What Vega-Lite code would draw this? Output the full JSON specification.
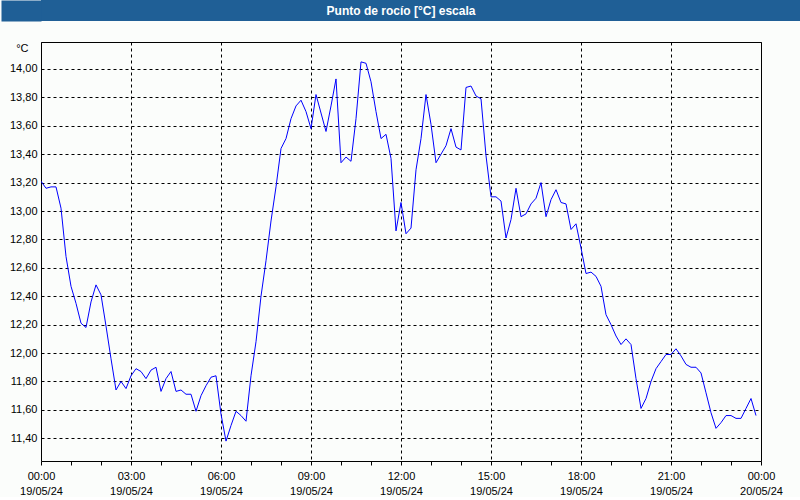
{
  "$schema": "https://vega.github.io/schema/vega-lite/v6.json",
  "padding": 0,
  "background": "#fbfdfb",
  "spacing": 20,
  "config": {
    "font": "Liberation Sans",
    "view": {"stroke": null}
  },
  "vconcat": [
    {
      "width": 760,
      "height": 21,
      "view": {"fill": "#1f5f96", "stroke": null},
      "data": {"values": [{"label": "Punto de rocío [°C] escala"}]},
      "mark": {"type": "text", "color": "#ffffff", "font": "Liberation Sans", "fontSize": 12, "fontWeight": "bold", "baseline": "middle", "align": "center", "dx": -20},
      "encoding": {
        "text": {"field": "label", "type": "nominal"},
        "y": {
          "datum": 0,
          "type": "quantitative",
          "scale": {"domain": [-1, 1]},
          "axis": {"orient": "left", "offset": 20, "domain": true, "domainWidth": 40, "domainColor": "#1f5f96", "domainCap": "butt", "labels": false, "ticks": false, "grid": false, "title": null, "minExtent": 0, "maxExtent": 0}
        }
      }
    },
    {
      "width": 720,
      "height": 419,
      "view": {"stroke": "#000000", "strokeWidth": 1},
      "data": {"values": [
      {"min": 0, "v": 13.21}, {"min": 10, "v": 13.16}, {"min": 20, "v": 13.17}, {"min": 30, "v": 13.17}, {"min": 40, "v": 13.02}, {"min": 50, "v": 12.68},
      {"min": 60, "v": 12.47}, {"min": 70, "v": 12.35}, {"min": 80, "v": 12.21}, {"min": 90, "v": 12.18}, {"min": 100, "v": 12.36}, {"min": 110, "v": 12.48},
      {"min": 120, "v": 12.41}, {"min": 130, "v": 12.19}, {"min": 140, "v": 11.96}, {"min": 150, "v": 11.74}, {"min": 160, "v": 11.80}, {"min": 170, "v": 11.75},
      {"min": 180, "v": 11.84}, {"min": 190, "v": 11.89}, {"min": 200, "v": 11.87}, {"min": 210, "v": 11.82}, {"min": 220, "v": 11.88}, {"min": 230, "v": 11.90},
      {"min": 240, "v": 11.73}, {"min": 250, "v": 11.82}, {"min": 260, "v": 11.87}, {"min": 270, "v": 11.73}, {"min": 280, "v": 11.74}, {"min": 290, "v": 11.71},
      {"min": 300, "v": 11.71}, {"min": 310, "v": 11.59}, {"min": 320, "v": 11.70}, {"min": 330, "v": 11.77}, {"min": 340, "v": 11.83}, {"min": 350, "v": 11.84},
      {"min": 360, "v": 11.57}, {"min": 370, "v": 11.38}, {"min": 380, "v": 11.49}, {"min": 390, "v": 11.59}, {"min": 400, "v": 11.56}, {"min": 410, "v": 11.52},
      {"min": 420, "v": 11.84}, {"min": 430, "v": 12.08}, {"min": 440, "v": 12.40}, {"min": 450, "v": 12.65}, {"min": 460, "v": 12.93}, {"min": 470, "v": 13.17},
      {"min": 480, "v": 13.44}, {"min": 490, "v": 13.51}, {"min": 500, "v": 13.65}, {"min": 510, "v": 13.74}, {"min": 520, "v": 13.78}, {"min": 530, "v": 13.70},
      {"min": 540, "v": 13.58}, {"min": 550, "v": 13.82}, {"min": 560, "v": 13.69}, {"min": 570, "v": 13.56}, {"min": 580, "v": 13.74}, {"min": 590, "v": 13.93},
      {"min": 600, "v": 13.34}, {"min": 610, "v": 13.38}, {"min": 620, "v": 13.35}, {"min": 630, "v": 13.65}, {"min": 640, "v": 14.05}, {"min": 650, "v": 14.04},
      {"min": 660, "v": 13.91}, {"min": 670, "v": 13.70}, {"min": 680, "v": 13.51}, {"min": 690, "v": 13.54}, {"min": 700, "v": 13.37}, {"min": 710, "v": 12.86},
      {"min": 720, "v": 13.06}, {"min": 730, "v": 12.84}, {"min": 740, "v": 12.88}, {"min": 750, "v": 13.29}, {"min": 760, "v": 13.51}, {"min": 770, "v": 13.82},
      {"min": 780, "v": 13.61}, {"min": 790, "v": 13.34}, {"min": 800, "v": 13.40}, {"min": 810, "v": 13.46}, {"min": 820, "v": 13.58}, {"min": 830, "v": 13.45},
      {"min": 840, "v": 13.43}, {"min": 850, "v": 13.87}, {"min": 860, "v": 13.88}, {"min": 870, "v": 13.81}, {"min": 880, "v": 13.79}, {"min": 890, "v": 13.39},
      {"min": 900, "v": 13.10}, {"min": 910, "v": 13.10}, {"min": 920, "v": 13.07}, {"min": 930, "v": 12.81}, {"min": 940, "v": 12.94}, {"min": 950, "v": 13.16},
      {"min": 960, "v": 12.96}, {"min": 970, "v": 12.98}, {"min": 980, "v": 13.05}, {"min": 990, "v": 13.09}, {"min": 1000, "v": 13.20}, {"min": 1010, "v": 12.96},
      {"min": 1020, "v": 13.08}, {"min": 1030, "v": 13.15}, {"min": 1040, "v": 13.06}, {"min": 1050, "v": 13.05}, {"min": 1060, "v": 12.87}, {"min": 1070, "v": 12.91},
      {"min": 1080, "v": 12.74}, {"min": 1090, "v": 12.56}, {"min": 1100, "v": 12.57}, {"min": 1110, "v": 12.54}, {"min": 1120, "v": 12.47}, {"min": 1130, "v": 12.27},
      {"min": 1140, "v": 12.20}, {"min": 1150, "v": 12.12}, {"min": 1160, "v": 12.06}, {"min": 1170, "v": 12.10}, {"min": 1180, "v": 12.06}, {"min": 1190, "v": 11.82},
      {"min": 1200, "v": 11.61}, {"min": 1210, "v": 11.68}, {"min": 1220, "v": 11.80}, {"min": 1230, "v": 11.89}, {"min": 1240, "v": 11.94}, {"min": 1250, "v": 11.99},
      {"min": 1260, "v": 11.99}, {"min": 1270, "v": 12.03}, {"min": 1280, "v": 11.98}, {"min": 1290, "v": 11.92}, {"min": 1300, "v": 11.90}, {"min": 1310, "v": 11.90},
      {"min": 1320, "v": 11.86}, {"min": 1330, "v": 11.72}, {"min": 1340, "v": 11.58}, {"min": 1350, "v": 11.47}, {"min": 1360, "v": 11.51}, {"min": 1370, "v": 11.56},
      {"min": 1380, "v": 11.56}, {"min": 1390, "v": 11.54}, {"min": 1400, "v": 11.54}, {"min": 1410, "v": 11.61}, {"min": 1420, "v": 11.68}, {"min": 1430, "v": 11.56}
      ]},
      "mark": {"type": "line", "color": "#0000ff", "strokeWidth": 1, "clip": true},
      "encoding": {
        "x": {
          "field": "min",
          "type": "quantitative",
          "scale": {"domain": [0, 1440], "nice": false, "zero": false},
          "axis": {
            "title": null,
            "values": [0, 60, 120, 180, 240, 300, 360, 420, 480, 540, 600, 660, 720, 780, 840, 900, 960, 1020, 1080, 1140, 1200, 1260, 1320, 1380, 1440],
            "domain": false,
            "tickSize": 4,
            "tickColor": "#000000",
            "grid": true,
            "gridColor": "#000000",
            "gridDash": [3, 3],
            "gridOpacity": {"condition": {"test": "datum.value % 180 == 0", "value": 1}, "value": 0},
            "labelExpr": "datum.value % 180 == 0 ? [(datum.value % 1440 < 600 ? '0' : '') + floor((datum.value % 1440) / 60) + ':00', datum.value >= 1440 ? '20/05/24' : '19/05/24'] : ''",
            "labelFlush": false,
            "labelOverlap": false,
            "labelAlign": "center",
            "labelBaseline": "top",
            "labelPadding": 5,
            "labelLineHeight": 15,
            "labelFont": "Liberation Sans",
            "labelFontSize": 11,
            "labelColor": "#000000"
          }
        },
        "y": {
          "field": "v",
          "type": "quantitative",
          "scale": {"domain": [11.24, 14.19], "nice": false, "zero": false},
          "axis": {
            "title": "°C",
            "titleAngle": 0,
            "titleX": -13,
            "titleY": 6,
            "titleAlign": "right",
            "titleBaseline": "middle",
            "titleFont": "Liberation Sans",
            "titleFontSize": 11,
            "titleFontWeight": "normal",
            "titleColor": "#000000",
            "values": [11.4, 11.6, 11.8, 12.0, 12.2, 12.4, 12.6, 12.8, 13.0, 13.2, 13.4, 13.6, 13.8, 14.0],
            "labelExpr": "replace(format(datum.value, '.2f'), '.', ',')",
            "domain": false,
            "ticks": false,
            "labelPadding": 4,
            "labelFont": "Liberation Sans",
            "labelFontSize": 11,
            "labelColor": "#000000",
            "grid": true,
            "gridColor": "#000000",
            "gridDash": [3, 3],
            "minExtent": 40,
            "maxExtent": 40
          }
        }
      }
    }
  ]
}
